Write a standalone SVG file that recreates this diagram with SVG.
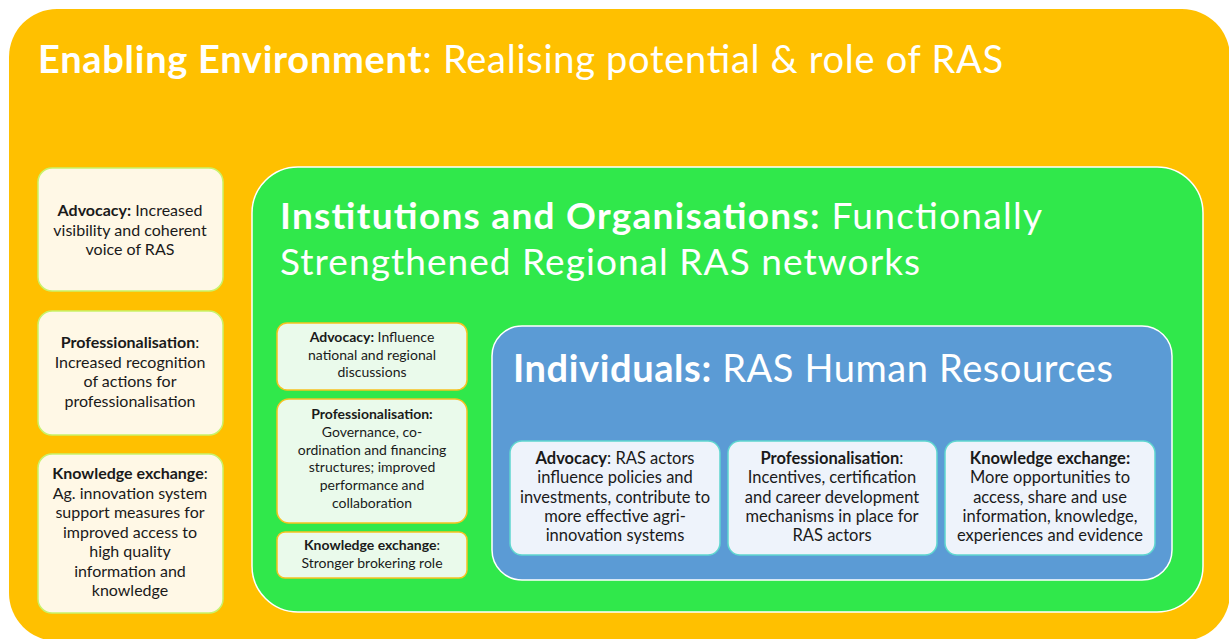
<svg xmlns="http://www.w3.org/2000/svg" width="1229" height="639" viewBox="0 0 1229 639">
<style>
text{font-family:Lato,"Open Sans","Liberation Sans",sans-serif;}
.t{fill:#ffffff;}
.b{font-weight:700;}
.s1{font-size:16px;fill:#1a1a1a;text-anchor:middle;}
.s2{font-size:14px;fill:#1a1a1a;text-anchor:middle;}
.s3{font-size:16.5px;fill:#1a1a1a;text-anchor:middle;}
.cream{fill:#fff8e6;stroke:#c9f26a;stroke-width:1.5;}
.mint{fill:#eafaeb;stroke:#f8c220;stroke-width:1.5;}
.ice{fill:#eef3fb;stroke:#5fd6d0;stroke-width:1.5;}
</style>
<rect width="1229" height="639" fill="#ffffff"/>
<g id="enabling-environment">
<rect x="9" y="9" width="1221" height="632" rx="48" fill="#ffc000"/>
<text class="t" x="38" y="73" font-size="38" textLength="965"><tspan class="b">Enabling Environment</tspan>: Realising potential &amp; role of RAS</text>
</g>
<g id="ee-advocacy">
<rect class="cream" x="38" y="168" width="185" height="123" rx="14"/>
<text class="s1" y="216"><tspan x="130"><tspan class="b">Advocacy:</tspan> Increased</tspan><tspan x="130" dy="19.5">visibility and coherent</tspan><tspan x="130" dy="19.5">voice of RAS</tspan></text>
</g>
<g id="ee-professionalisation">
<rect class="cream" x="38" y="311" width="185" height="124" rx="14"/>
<text class="s1" y="348"><tspan x="130"><tspan class="b">Professionalisation</tspan>:</tspan><tspan x="130" dy="19.6">Increased recognition</tspan><tspan x="130" dy="19.6">of actions for</tspan><tspan x="130" dy="19.6">professionalisation</tspan></text>
</g>
<g id="ee-knowledge">
<rect class="cream" x="38" y="454" width="185" height="159" rx="14"/>
<text class="s1" y="479"><tspan x="130"><tspan class="b">Knowledge exchange</tspan>:</tspan><tspan x="130" dy="19.5">Ag. innovation system</tspan><tspan x="130" dy="19.5">support measures for</tspan><tspan x="130" dy="19.5">improved access to</tspan><tspan x="130" dy="19.5">high quality</tspan><tspan x="130" dy="19.5">information and</tspan><tspan x="130" dy="19.5">knowledge</tspan></text>
</g>
<g id="institutions">
<rect x="252" y="167" width="951" height="445" rx="46" fill="#30e84b" stroke="#ffffff" stroke-width="1.5"/>
<text class="t" x="280" y="229" font-size="37" textLength="762"><tspan class="b">Institutions and Organisations:</tspan> Functionally</text>
<text class="t" x="280" y="275" font-size="37" textLength="640">Strengthened Regional RAS networks</text>
</g>
<g id="io-advocacy">
<rect class="mint" x="277" y="323" width="190" height="67" rx="10"/>
<text class="s2" y="342"><tspan x="372"><tspan class="b">Advocacy:</tspan> Influence</tspan><tspan x="372" dy="17.7">national and regional</tspan><tspan x="372" dy="17.7">discussions</tspan></text>
</g>
<g id="io-professionalisation">
<rect class="mint" x="277" y="399" width="190" height="124" rx="12"/>
<text class="s2" y="419"><tspan x="372" class="b">Professionalisation:</tspan><tspan x="372" dy="17.8">Governance, co-</tspan><tspan x="372" dy="17.8">ordination and financing</tspan><tspan x="372" dy="17.8">structures; improved</tspan><tspan x="372" dy="17.8">performance and</tspan><tspan x="372" dy="17.8">collaboration</tspan></text>
</g>
<g id="io-knowledge">
<rect class="mint" x="277" y="532" width="190" height="46" rx="8"/>
<text class="s2" y="550"><tspan x="372"><tspan class="b">Knowledge exchange</tspan>:</tspan><tspan x="372" dy="18">Stronger brokering role</tspan></text>
</g>
<g id="individuals">
<rect x="492" y="326" width="680" height="254" rx="30" fill="#5b9bd5" stroke="#ffffff" stroke-width="1.5"/>
<text class="t" x="513" y="382" font-size="38" textLength="600"><tspan class="b">Individuals:</tspan> RAS Human Resources</text>
</g>
<g id="ind-advocacy">
<rect class="ice" x="510" y="441" width="210" height="114" rx="12"/>
<text class="s3" y="464"><tspan x="615"><tspan class="b">Advocacy</tspan>: RAS actors</tspan><tspan x="615" dy="19.3">influence policies and</tspan><tspan x="615" dy="19.3">investments, contribute to</tspan><tspan x="615" dy="19.3">more effective agri-</tspan><tspan x="615" dy="19.3">innovation systems</tspan></text>
</g>
<g id="ind-professionalisation">
<rect class="ice" x="728" y="441" width="209" height="114" rx="12"/>
<text class="s3" y="464"><tspan x="832"><tspan class="b">Professionalisation</tspan>:</tspan><tspan x="832" dy="19.3">Incentives, certification</tspan><tspan x="832" dy="19.3">and career development</tspan><tspan x="832" dy="19.3">mechanisms in place for</tspan><tspan x="832" dy="19.3">RAS actors</tspan></text>
</g>
<g id="ind-knowledge">
<rect class="ice" x="945" y="441" width="210" height="114" rx="12"/>
<text class="s3" y="464"><tspan x="1050" class="b">Knowledge exchange:</tspan><tspan x="1050" dy="19.3">More opportunities to</tspan><tspan x="1050" dy="19.3">access, share and use</tspan><tspan x="1050" dy="19.3">information, knowledge,</tspan><tspan x="1050" dy="19.3">experiences and evidence</tspan></text>
</g>
<g id="connectors"></g>
</svg>
